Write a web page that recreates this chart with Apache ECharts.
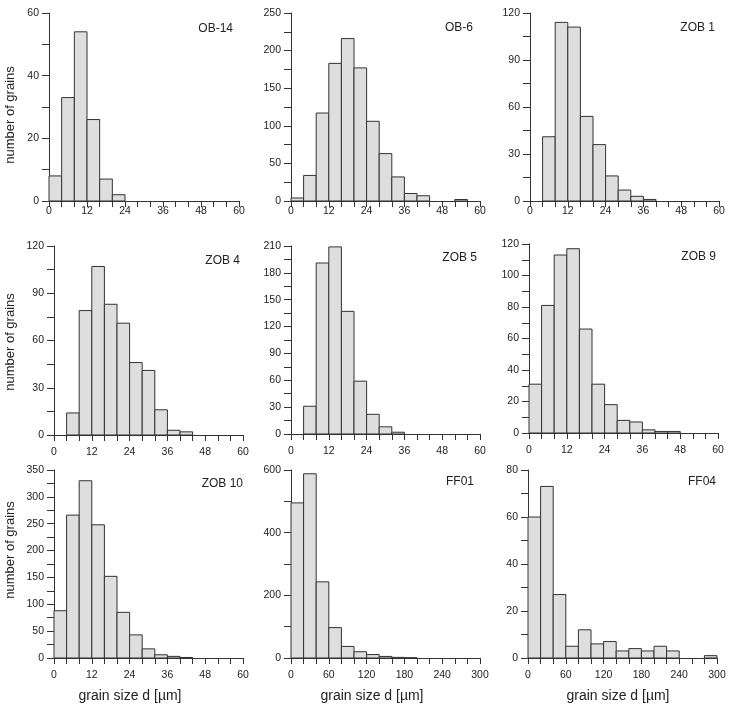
<!DOCTYPE html>
<html lang="en">
<head>
  <meta charset="UTF-8">
  <title>grain size histograms</title>
  <style>
    * { padding: 0; margin: 0; }
    body { background: #fff; }
    #charts { width: 731px; height: 704px; }
  </style>
</head>
<body>
  <div id="charts"></div>
</body>
<script src="https://cdn.jsdelivr.net/npm/echarts@6/dist/echarts.min.js"></script>
<script type="text/javascript">
  // bin edges (µm)
  var edgesFine = [0, 4, 8, 12, 16, 20, 24, 28, 32, 36, 40, 44, 48, 52, 56, 60]
  var edgesCoarse = [0, 20, 40, 60, 80, 100, 120, 140, 160, 180, 200, 220, 240, 260, 280, 300]

  // counts per bin
  var ob14  = [8, 33, 54, 26, 7, 2, 0, 0, 0, 0, 0, 0, 0, 0, 0]
  var ob6   = [4, 34, 117, 183, 216, 177, 106, 63, 32, 10, 7, 0, 0, 2, 0]
  var zob1  = [0, 41, 114, 111, 54, 36, 16, 7, 3, 1, 0, 0, 0, 0, 0]
  var zob4  = [0, 14, 79, 107, 83, 71, 46, 41, 16, 3, 2, 0, 0, 0, 0]
  var zob5  = [0, 31, 191, 209, 137, 59, 22, 8, 2, 0, 0, 0, 0, 0, 0]
  var zob9  = [31, 81, 113, 117, 66, 31, 18, 8, 7, 2, 1, 1, 0, 0, 0]
  var zob10 = [88, 266, 330, 248, 152, 85, 43, 17, 6, 3, 1, 0, 0, 0, 0]
  var ff01  = [495, 588, 243, 97, 37, 20, 11, 5, 2, 1, 0, 0, 0, 0, 0]
  var ff04  = [60, 73, 27, 5, 12, 6, 7, 3, 4, 3, 5, 3, 0, 0, 1]

  var names = ['OB-14', 'OB-6', 'ZOB 1', 'ZOB 4', 'ZOB 5', 'ZOB 9', 'ZOB 10', 'FF01', 'FF04']
  var yMax = [60, 250, 120, 120, 210, 120, 350, 600, 80]
  var yStep = [20, 50, 30, 30, 30, 20, 50, 200, 20]

  var panels = [
    { name: names[0], counts: ob14,  edges: edgesFine,   grid: [49, 13, 190, 188],  title: [233, 29] },
    { name: names[1], counts: ob6,   edges: edgesFine,   grid: [291, 13, 189, 188], title: [473, 28] },
    { name: names[2], counts: zob1,  edges: edgesFine,   grid: [530, 13, 189, 188], title: [715, 28] },
    { name: names[3], counts: zob4,  edges: edgesFine,   grid: [54, 246, 189, 189], title: [240, 261] },
    { name: names[4], counts: zob5,  edges: edgesFine,   grid: [291, 246, 189, 188], title: [477, 258] },
    { name: names[5], counts: zob9,  edges: edgesFine,   grid: [529, 244, 189, 189], title: [716, 257] },
    { name: names[6], counts: zob10, edges: edgesFine,   grid: [54, 470, 189, 188], title: [243, 484] },
    { name: names[7], counts: ff01,  edges: edgesCoarse, grid: [291, 470, 189, 188], title: [474, 482] },
    { name: names[8], counts: ff04,  edges: edgesCoarse, grid: [528, 470, 189, 188], title: [716, 482] }
  ]

  var axisColor = '#333'
  var textColor = '#222'
  var fontFamily = '"Liberation Sans", Arial, sans-serif'

  function renderBin(params, api) {
    var n = api.value(2)
    if (!n) return null
    var p0 = api.coord([api.value(0), 0])
    var p1 = api.coord([api.value(1), n])
    return {
      type: 'rect',
      shape: { x: p0[0], y: p1[1], width: p1[0] - p0[0], height: p0[1] - p1[1] },
      style: { fill: '#dedede', stroke: '#333', lineWidth: 1 }
    }
  }

  var grid = [], xAxis = [], yAxis = [], series = [], graphic = []
  panels.forEach(function (p, i) {
    var row = Math.floor(i / 3)
    var last = p.edges[p.edges.length - 1]
    grid.push({ left: p.grid[0], top: p.grid[1], width: p.grid[2], height: p.grid[3], outerBoundsMode: 'none' })
    xAxis.push({
      type: 'value', gridIndex: i, min: 0, max: last, interval: last / 5,
      axisLine: { show: true, lineStyle: { color: axisColor, width: 1 } },
      axisTick: { show: true, length: 6, lineStyle: { color: axisColor } },
      minorTick: { show: true, splitNumber: 3, length: 6, lineStyle: { color: axisColor } },
      splitLine: { show: false },
      axisLabel: { color: textColor, fontSize: 10.5, fontFamily: fontFamily, margin: row === 0 ? 5 : 12 }
    })
    yAxis.push({
      type: 'value', gridIndex: i, min: 0, max: yMax[i], interval: yStep[i],
      axisLine: { show: true, lineStyle: { color: axisColor, width: 1 } },
      axisTick: { show: true, length: 7, lineStyle: { color: axisColor } },
      minorTick: { show: true, splitNumber: 2, length: 7, lineStyle: { color: axisColor } },
      splitLine: { show: false },
      axisLabel: { color: textColor, fontSize: 10.5, fontFamily: fontFamily, margin: 10 }
    })
    var data = p.counts.map(function (c, k) { return [p.edges[k], p.edges[k + 1], c] })
    series.push({
      type: 'custom', name: p.name, xAxisIndex: i, yAxisIndex: i,
      renderItem: renderBin, encode: { x: [0, 1], y: 2 }, data: data, silent: true
    })
    graphic.push({
      type: 'text', x: p.title[0], y: p.title[1],
      style: { text: p.name, fill: textColor, font: '12px ' + fontFamily, align: 'right', verticalAlign: 'middle' }
    })
  })

  // axis titles
  ;[115, 342, 550].forEach(function (y) {
    graphic.push({
      type: 'text', x: 10, y: y, rotation: Math.PI / 2,
      style: { text: 'number of grains', fill: textColor, font: '13px ' + fontFamily, align: 'center', verticalAlign: 'middle' }
    })
  })
  ;[130, 372, 618].forEach(function (x) {
    graphic.push({
      type: 'text', x: x, y: 696,
      style: { text: 'grain size d [\u00b5m]', fill: textColor, font: '14px ' + fontFamily, align: 'center', verticalAlign: 'middle' }
    })
  })

  var myChart = echarts.init(document.getElementById('charts'))
  myChart.setOption({
    animation: false,
    grid: grid,
    xAxis: xAxis,
    yAxis: yAxis,
    series: series,
    graphic: graphic
  })
</script>
</html>
